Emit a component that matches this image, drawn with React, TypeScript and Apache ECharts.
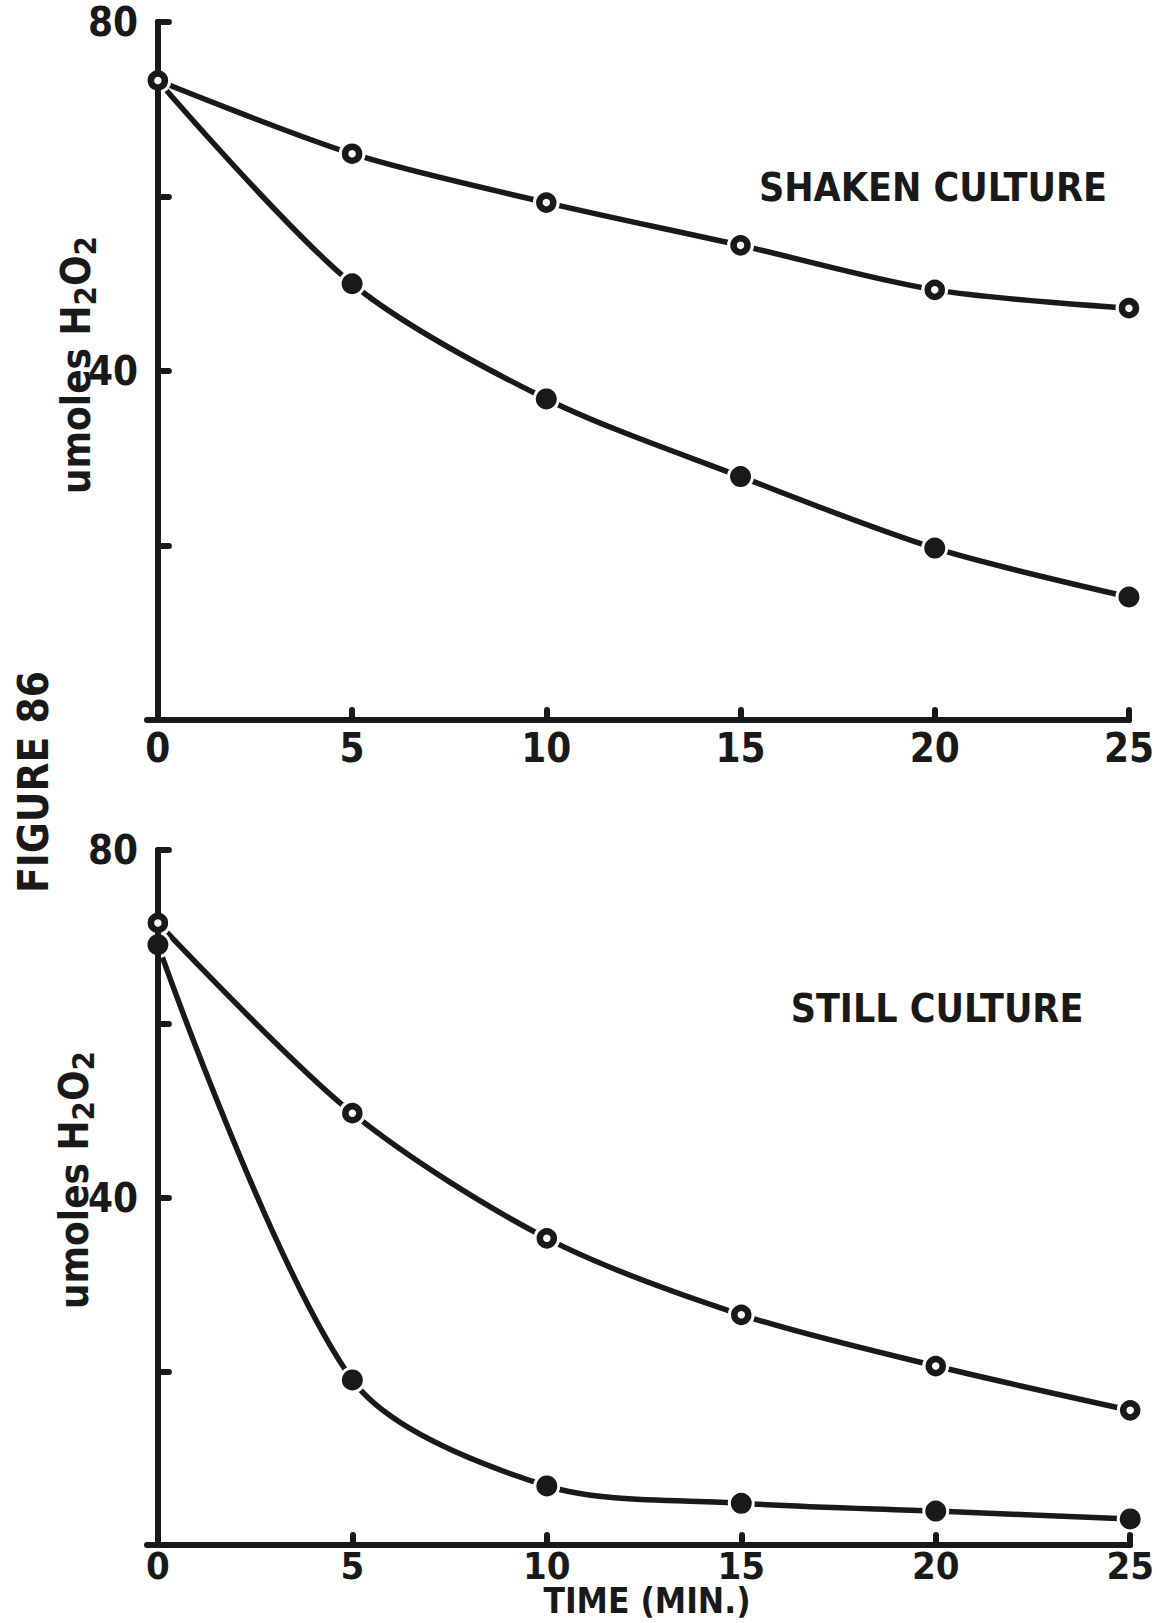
import React, { useEffect, useRef } from "react";
import * as echarts from "echarts";

// ---- data ----
const timeMin = [0, 5, 10, 15, 20, 25];
const shakenOpen = [73.3, 64.9, 59.3, 54.4, 49.3, 47.2];
const shakenFilled = [73.3, 50.0, 36.8, 27.9, 19.7, 14.1];
const stillOpen = [71.6, 49.7, 35.3, 26.5, 20.6, 15.5];
const stillFilled = [69.1, 19.0, 6.8, 4.8, 3.9, 3.0];
const xTickValues = [0, 5, 10, 15, 20, 25];
const yTickValues = [20, 40, 60, 80];
const yLabelValues = [40, 80];
const panelTitles = ["SHAKEN CULTURE", "STILL CULTURE"];
const xAxisTitle = "TIME (MIN.)";
const figureTitle = "FIGURE 86";

const INK = "#1a1919";
const FONT = "'DejaVu Sans Condensed', 'DejaVu Sans', sans-serif";

function pairs(ys: number[]) {
  return ys.map((y, i) => [timeMin[i], y]);
}

export default function App() {
  const ref = useRef<HTMLDivElement>(null);
  useEffect(() => {
    if (!ref.current) return;
    const chart = echarts.init(ref.current, null, { renderer: "svg" });

    const grids = [
      { left: 147, right: 26, top: 22, height: 698 },
      { left: 147, right: 26, top: 850, height: 695 },
    ];
    const labelMargins = [8, 2];
    const labelSizes = [40, 38];

    const xAxes = [0, 1].map((g) => ({
      type: "value",
      gridIndex: g,
      min: -0.28,
      max: 25,
      z: 3,
      splitLine: { show: false },
      axisLine: { show: true, lineStyle: { color: INK, width: 6, cap: "round" } },
      axisTick: {
        show: true,
        inside: true,
        length: 10,
        customValues: xTickValues,
        lineStyle: { color: INK, width: 6, cap: "round" },
      },
      axisLabel: {
        customValues: xTickValues,
        color: INK,
        fontFamily: FONT,
        fontWeight: "bold",
        fontSize: labelSizes[g],
        margin: labelMargins[g],
      },
    }));

    const yAxes = [0, 1].map((g) => ({
      type: "value",
      gridIndex: g,
      min: 0,
      max: 80,
      z: 3,
      splitLine: { show: false },
      axisLine: { show: true, lineStyle: { color: INK, width: 6, cap: "round" } },
      axisTick: {
        show: true,
        inside: true,
        length: 11,
        customValues: yTickValues,
        lineStyle: { color: INK, width: 6, cap: "round" },
      },
      axisLabel: {
        customValues: yLabelValues,
        color: INK,
        fontFamily: FONT,
        fontWeight: "bold",
        fontSize: 40,
        margin: 9,
      },
    }));

    const panels = [
      { open: shakenOpen, filled: shakenFilled, skipFirstFilled: true },
      { open: stillOpen, filled: stillFilled, skipFirstFilled: false },
    ];

    const series: any[] = [];
    panels.forEach((p, g) => {
      const lineBase = {
        type: "line",
        xAxisIndex: g,
        yAxisIndex: g,
        showSymbol: false,
        smooth: 0.3,
        z: 1,
        lineStyle: { color: INK, width: 5.5, cap: "round" },
      };
      series.push({ ...lineBase, data: pairs(p.open) });
      series.push({ ...lineBase, data: pairs(p.filled) });
      // white gaps around markers
      series.push({
        type: "scatter",
        xAxisIndex: g,
        yAxisIndex: g,
        z: 2,
        symbol: "circle",
        symbolSize: 27,
        itemStyle: { color: "#ffffff", opacity: 1 },
        data: pairs(p.open).concat(pairs(p.filled).slice(p.skipFirstFilled ? 1 : 0)),
      });
      series.push({
        type: "scatter",
        xAxisIndex: g,
        yAxisIndex: g,
        z: 4,
        symbol: "circle",
        symbolSize: 14,
        itemStyle: { color: "#ffffff", borderColor: INK, borderWidth: 6.5, opacity: 1 },
        data: pairs(p.open),
      });
      series.push({
        type: "scatter",
        xAxisIndex: g,
        yAxisIndex: g,
        z: 4,
        symbol: "circle",
        symbolSize: 21,
        itemStyle: { color: INK, opacity: 1 },
        data: pairs(p.filled).slice(p.skipFirstFilled ? 1 : 0),
      });
    });

    const yLabelText = "umoles H{s|2}O{s|2}";
    const yLabel = (x: number, y: number) => ({
      type: "text",
      x,
      y,
      rotation: Math.PI / 2,
      style: {
        text: yLabelText,
        fill: INK,
        fontFamily: FONT,
        fontWeight: "bold",
        fontSize: 40,
        align: "center",
        verticalAlign: "middle",
        lineHeight: 48,
        rich: {
          s: {
            fontFamily: FONT,
            fontWeight: "bold",
            fontSize: 31,
            lineHeight: 30,
            verticalAlign: "bottom",
            fill: INK,
          },
        },
      },
    });

    const bigText = (text: string, x: number, y: number, size: number, rot = 0) => ({
      type: "text",
      x,
      y,
      rotation: rot,
      style: {
        text,
        fill: INK,
        fontFamily: FONT,
        fontWeight: "bold",
        fontSize: size,
        align: "center",
        verticalAlign: "middle",
      },
    });

    chart.setOption({
      animation: false,
      backgroundColor: "#ffffff",
      grid: grids,
      xAxis: xAxes,
      yAxis: yAxes,
      series,
      graphic: [
        bigText(panelTitles[0], 933, 187, 39),
        bigText(panelTitles[1], 937, 1008, 39),
        bigText(xAxisTitle, 647, 1601, 35),
        bigText(figureTitle, 33, 782, 42, Math.PI / 2),
        yLabel(76, 365),
        yLabel(74, 1180),
      ],
    });

    return () => chart.dispose();
  }, []);

  return (
    <div
      ref={ref}
      style={{ position: "absolute", left: 0, top: 0, width: 1157, height: 1623, background: "#fff" }}
    />
  );
}
